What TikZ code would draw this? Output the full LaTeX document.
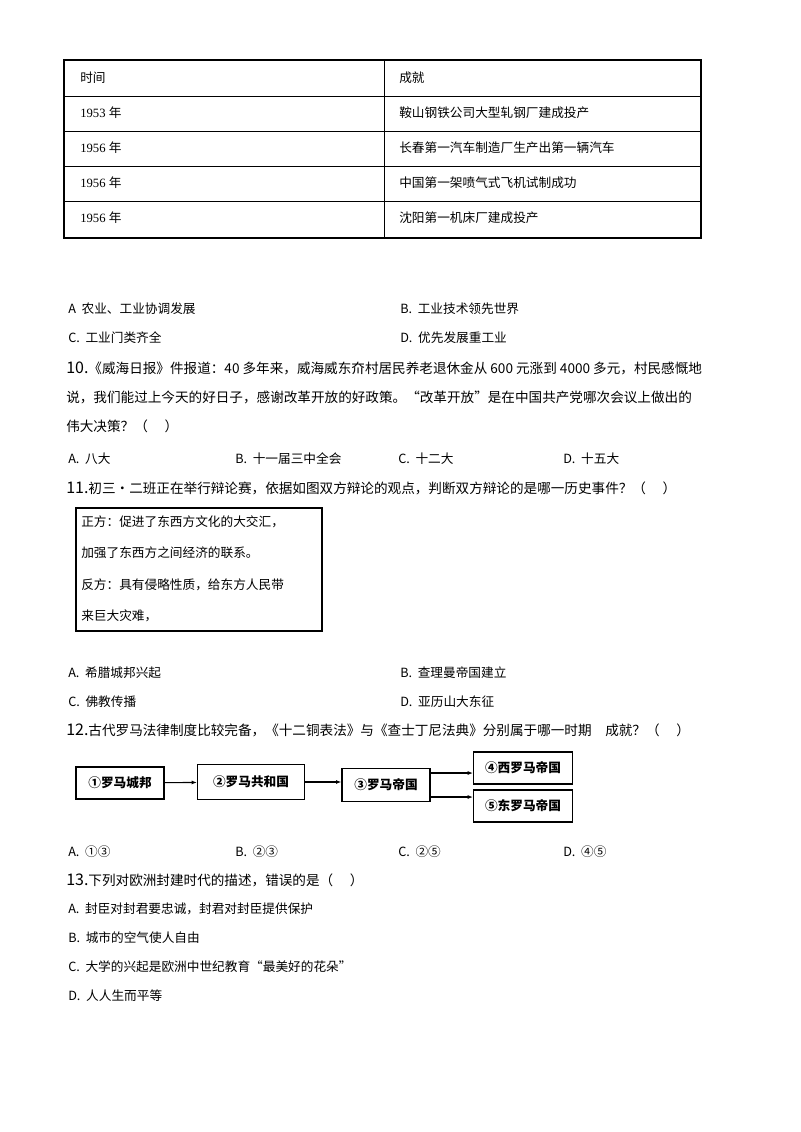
\documentclass[tikz,border=0pt]{standalone}
\usepackage{fontspec}
\setmainfont{Noto Sans CJK SC}
\newfontfamily\lat{Liberation Serif}
\usetikzlibrary{arrows.meta}
\begin{document}
\begin{tikzpicture}[x=0.75pt,y=-0.75pt,
  t/.style={anchor=west,inner sep=0,font=\fontsize{9.5pt}{11pt}\selectfont},
  q/.style={anchor=west,inner sep=0,font=\fontsize{10.2pt}{11pt}\selectfont},
  fb/.style={draw,line width=1pt,minimum height=24pt,inner sep=0,font=\fontsize{9.5pt}{11pt}\selectfont\bfseries},
  ar/.style={-{Latex[length=4pt]},line width=0.8pt}]
\useasboundingbox[fill=white] (0,0) rectangle (800,1132);
% table
\draw[line width=0.8pt] (64,60) rectangle (701,238);
\foreach \y in {96,131,166,201} \draw[line width=0.6pt] (64,\y) -- (701,\y);
\draw[line width=0.6pt] (384,60) -- (384,238);
\node[t] (h1) at (80,78) {时间};
\node[t] (h2) at (399,78) {成就};
\node[t] (r1a) at (80,113) {\lat 1953 \rm 年};
\node[t] (r1b) at (399,113) {鞍山钢铁公司大型轧钢厂建成投产};
\node[t] (r2a) at (80,148) {\lat 1956 \rm 年};
\node[t] (r2b) at (399,148) {长春第一汽车制造厂生产出第一辆汽车};
\node[t] (r3a) at (80,183) {\lat 1956 \rm 年};
\node[t] (r3b) at (399,183) {中国第一架喷气式飞机试制成功};
\node[t] (r4a) at (80,218) {\lat 1956 \rm 年};
\node[t] (r4b) at (399,218) {沈阳第一机床厂建成投产};
% options q9
\node[t] (o9a) at (68,309) {A\ \ 农业、工业协调发展};
\node[t] (o9b) at (400,309) {B.\ \ 工业技术领先世界};
\node[t] (o9c) at (68,338) {C.\ \ 工业门类齐全};
\node[t] (o9d) at (400,338) {D.\ \ 优先发展重工业};
% q10
\node[q] (q10a) at (66,368) {{\fontsize{12pt}{12pt}\selectfont 10.}《威海日报》件报道：40 多年来，威海威东夼村居民养老退休金从 600 元涨到 4000 多元，村民感慨地};
\node[q] (q10b) at (66,397) {说，我们能过上今天的好日子，感谢改革开放的好政策。“改革开放”是在中国共产党哪次会议上做出的};
\node[q] (q10c) at (66,426) {伟大决策？（\quad\ ）};
\node[t] (o10a) at (68,459) {A.\ \ 八大};
\node[t] (o10b) at (235,459) {B.\ \ 十一届三中全会};
\node[t] (o10c) at (398,459) {C.\ \ 十二大};
\node[t] (o10d) at (563,459) {D.\ \ 十五大};
% q11
\node[q] (q11) at (66,488) {{\fontsize{12pt}{12pt}\selectfont 11.}初三•二班正在举行辩论赛，依据如图双方辩论的观点，判断双方辩论的是哪一历史事件？（\quad\ ）};
\draw[line width=0.8pt] (76,508) rectangle (322,631);
\node[t] (d1) at (81,522) {正方：促进了东西方文化的大交汇，};
\node[t] (d2) at (81,553) {加强了东西方之间经济的联系。};
\node[t] (d3) at (81,585) {反方：具有侵略性质，给东方人民带};
\node[t] (d4) at (81,616) {来巨大灾难，};
\node[t] (o11a) at (68,673) {A.\ \ 希腊城邦兴起};
\node[t] (o11b) at (400,673) {B.\ \ 查理曼帝国建立};
\node[t] (o11c) at (68,702) {C.\ \ 佛教传播};
\node[t] (o11d) at (400,702) {D.\ \ 亚历山大东征};
% q12
\node[q] (q12) at (66,730) {{\fontsize{12pt}{12pt}\selectfont 12.}古代罗马法律制度比较完备，《十二铜表法》与《查士丁尼法典》分别属于哪一时期\quad 成就？（\quad\ ）};
\node[fb,minimum width=66pt] (b1) at (120,783) {①罗马城邦};
\node[fb,minimum width=80pt,minimum height=26pt] (b2) at (251,782) {②罗马共和国};
\node[fb,minimum width=66pt,minimum height=25pt] (b3) at (386,785) {③罗马帝国};
\node[fb,minimum width=74pt] (b4) at (523,768) {④西罗马帝国};
\node[fb,minimum width=74pt] (b5) at (523,806) {⑤东罗马帝国};
\draw[ar] (b1) -- (b2);
\draw[ar] (b2.east) -- (b3.west |- b2.east);
\draw[ar,line width=1.4pt] (b3.east |- 0,773) -- (b4.west |- 0,773);
\draw[ar,line width=1.4pt] (b3.east |- 0,797) -- (b5.west |- 0,797);
\node[t] (o12a) at (68,852) {A.\ \ ①③};
\node[t] (o12b) at (235,852) {B.\ \ ②③};
\node[t] (o12c) at (398,852) {C.\ \ ②⑤};
\node[t] (o12d) at (563,852) {D.\ \ ④⑤};
% q13
\node[q] (q13) at (66,880) {{\fontsize{12pt}{12pt}\selectfont 13.}下列对欧洲封建时代的描述，错误的是（\quad\ ）};
\node[t] (o13a) at (68,909) {A.\ \ 封臣对封君要忠诚，封君对封臣提供保护};
\node[t] (o13b) at (68,938) {B.\ \ 城市的空气使人自由};
\node[t] (o13c) at (68,967) {C.\ \ 大学的兴起是欧洲中世纪教育“最美好的花朵”};
\node[t] (o13d) at (68,996) {D.\ \ 人人生而平等};
\end{tikzpicture}
\end{document}
